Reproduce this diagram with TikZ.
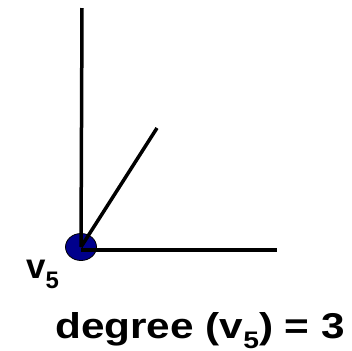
\documentclass[tikz,border=0pt]{standalone}
\usepackage{fontspec}
\setmainfont{Liberation Sans}
\usetikzlibrary{shapes.geometric}
\definecolor{vblue}{RGB}{0,0,140}
\newcommand{\subfive}{\raisebox{-10bp}{\fontsize{24}{24}\selectfont 5}}
\begin{document}
\begin{tikzpicture}[x=1bp,y=-1bp,
  edge/.style={line width=3.5bp,black},
  vert/.style={ellipse,draw=black,line width=0.8bp,fill=vblue,minimum width=31bp,minimum height=27bp,inner sep=0pt},
  lbl/.style={font=\fontsize{35}{40}\selectfont\bfseries,inner sep=0pt,anchor=base west}]
\useasboundingbox (0,0) rectangle (352,351);
\node[vert] (v) at (81,247) {};
\coordinate (top) at (82,8);
\coordinate (diag) at (157,128);
\coordinate (right) at (277,250);
\draw[edge] (v.center) -- (top);
\draw[edge] (v.center) -- (diag);
\draw[edge] (81,250) -- (right);
\node[lbl] (name) at (26,278) {v\subfive};
\node[lbl,font=\fontsize{36}{40}\selectfont\bfseries] (deg) at (55,338) {\scalebox{1.18}[1]{degree (v\subfive) = 3}};
\end{tikzpicture}
\end{document}
